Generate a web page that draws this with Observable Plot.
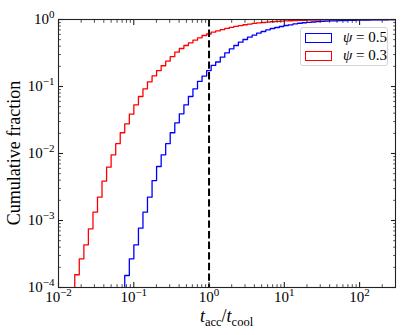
<!DOCTYPE html>
<html>
<head>
<meta charset="utf-8">
<script src="https://cdn.jsdelivr.net/npm/d3@7"></script>
<script src="https://cdn.jsdelivr.net/npm/@observablehq/plot@0.6"></script>
<style>
  body { margin: 0; background: #fff; }
  #wrap { position: relative; width: 416px; height: 335px; }
  .legend { position: absolute; left: 300px; top: 27px; width: 88px; height: 39px; box-sizing: border-box;
    border: 1px solid #d4d4d4; border-radius: 3px; background: rgba(255,255,255,0.8);
    font-family: "Liberation Serif", serif; font-size: 15px; color: #000; }
  .sw { position: absolute; left: 4px; width: 27px; height: 10px; box-sizing: border-box; border: 1.4px solid; }
  .lab { position: absolute; left: 42px; line-height: 15px; white-space: nowrap; }
</style>
</head>
<body>
<div id="wrap"></div>
<script>
// ---- data ----
const xDomain = [0.01, 300];
const yDomain = [1e-4, 1];
const xMajorTicks = [0.01, 0.1, 1, 10, 100];
const xMinorTicks = [0.02,0.03,0.04,0.05,0.06,0.07,0.08,0.09, 0.2,0.3,0.4,0.5,0.6,0.7,0.8,0.9,
                     2,3,4,5,6,7,8,9, 20,30,40,50,60,70,80,90, 200];
const yMajorTicks = [1e-4, 1e-3, 1e-2, 1e-1, 1];
const yMinorTicks = [2e-4,3e-4,4e-4,5e-4,6e-4,7e-4,8e-4,9e-4, 2e-3,3e-3,4e-3,5e-3,6e-3,7e-3,8e-3,9e-3,
                     0.02,0.03,0.04,0.05,0.06,0.07,0.08,0.09, 0.2,0.3,0.4,0.5,0.6,0.7,0.8,0.9];
const thresholdX = [1];

// histogram bin edges (log10 of t_acc/t_cool)
const binEdgeLog10 = [-1.844,
  -1.784,-1.724,-1.663,-1.603,-1.542,-1.482,-1.422,-1.361,-1.301,-1.240,-1.180,-1.120,-1.059,-0.999,-0.938,
  -0.878,-0.818,-0.757,-0.697,-0.636,-0.576,-0.516,-0.455,-0.395,-0.334,-0.274,-0.214,-0.153,-0.093,-0.032,
  0.028,0.088,0.149,0.209,0.270,0.330,0.390,0.451,0.511,0.572,0.632,0.692,0.753,0.813,0.874,0.934,0.994,
  1.055,1.115,1.176,1.236,1.296,1.357,1.417,1.478,1.538,1.598,1.659,1.719,1.780,1.840,1.900,1.961,2.021,
  2.082,2.142,2.202,2.263,2.323,2.384,2.444,2.504,2.565];

const seriesNames = ["ψ = 0.5", "ψ = 0.3"];
const seriesColors = ["#0000ff", "#ff0000"];
const seriesStartBin = [11, 0];

// cumulative fractions per bin, psi = 0.5
const cumPsi05 = [6e-5, 1.51e-4, 2.68e-4, 4.34e-4, 7.67e-4, 1.33e-3, 2.23e-3, 3.95e-3, 6.40e-3, 9.57e-3,
  0.0140, 0.0204, 0.0287, 0.0391, 0.0533, 0.0709, 0.0924, 0.119, 0.143, 0.173, 0.206, 0.232, 0.274, 0.318,
  0.365, 0.409, 0.458, 0.503, 0.544, 0.583, 0.625, 0.662, 0.702, 0.734, 0.760, 0.786, 0.814, 0.833, 0.863,
  0.879, 0.894, 0.906, 0.918, 0.928, 0.936, 0.944, 0.951, 0.957, 0.962, 0.966, 0.970, 0.974, 0.977, 0.980,
  0.982, 0.985, 0.987, 0.989, 0.991, 0.993, 0.995, 0.997];
// cumulative fractions per bin, psi = 0.3
const cumPsi03 = [6e-5, 1.55e-4, 2.68e-4, 4.34e-4, 7.52e-4, 1.33e-3, 2.23e-3, 3.86e-3, 6.25e-3, 9.57e-3,
  0.0140, 0.0204, 0.0277, 0.0386, 0.0533, 0.0709, 0.0924, 0.1175, 0.1445, 0.173, 0.204, 0.240, 0.279, 0.325,
  0.369, 0.409, 0.449, 0.491, 0.533, 0.577, 0.608, 0.646, 0.678, 0.708, 0.737, 0.763, 0.790, 0.812, 0.835,
  0.855, 0.873, 0.888, 0.902, 0.914, 0.925, 0.935, 0.944, 0.951, 0.958, 0.964, 0.969, 0.973, 0.977, 0.980,
  0.983, 0.985, 0.987, 0.989, 0.991, 0.993, 0.994, 0.995, 0.996, 0.997, 0.998, 0.998, 0.999, 0.999, 1.0];

// ---- build step points ----
function stepPoints(values, start) {
  const pts = values.map((v, i) => ({x: Math.pow(10, binEdgeLog10[start + i]), y: v}));
  pts.push({x: Math.pow(10, binEdgeLog10[binEdgeLog10.length - 1]), y: values[values.length - 1]});
  return pts;
}
const series = [stepPoints(cumPsi05, seriesStartBin[0]), stepPoints(cumPsi03, seriesStartBin[1])];

const FONT = "Liberation Serif";
const supFmt = d => String(Math.round(Math.log10(d))).replace("-", "\u2212");
const blank = () => "";

const plot = Plot.plot({
  width: 416, height: 335,
  marginLeft: 58, marginRight: 21, marginTop: 19, marginBottom: 48,
  style: {fontFamily: FONT, fontSize: "15px", background: "white", color: "#000"},
  x: {type: "log", domain: xDomain, axis: null},
  y: {type: "log", domain: yDomain, axis: null},
  marks: [
    Plot.line(series[1], {x: "x", y: "y", curve: "step-after", stroke: seriesColors[1], strokeWidth: 1.3, clip: true}),
    Plot.line(series[0], {x: "x", y: "y", curve: "step-after", stroke: seriesColors[0], strokeWidth: 1.3, clip: true}),
    Plot.ruleX(thresholdX, {stroke: "#000", strokeWidth: 2, strokeDasharray: "7.4,3.2"}),
    // inward major ticks
    Plot.axisX(xMajorTicks, {anchor: "bottom", tickSize: 5, dy: -5, tickFormat: blank, label: null, stroke: "#222", strokeWidth: 1.1}),
    Plot.axisX(xMajorTicks, {anchor: "top", tickSize: 5, dy: 5, tickFormat: blank, label: null, stroke: "#222", strokeWidth: 1.1}),
    Plot.axisY(yMajorTicks, {anchor: "left", tickSize: 5, dx: 5, tickFormat: blank, label: null, stroke: "#222", strokeWidth: 1.1}),
    Plot.axisY(yMajorTicks, {anchor: "right", tickSize: 5, dx: -5, tickFormat: blank, label: null, stroke: "#222", strokeWidth: 1.1}),
    // inward minor ticks
    Plot.axisX(xMinorTicks, {anchor: "bottom", tickSize: 2.8, dy: -2.8, tickFormat: blank, label: null, stroke: "#222", strokeWidth: 0.8}),
    Plot.axisX(xMinorTicks, {anchor: "top", tickSize: 2.8, dy: 2.8, tickFormat: blank, label: null, stroke: "#222", strokeWidth: 0.8}),
    Plot.axisY(yMinorTicks, {anchor: "left", tickSize: 2.8, dx: 2.8, tickFormat: blank, label: null, stroke: "#222", strokeWidth: 0.8}),
    Plot.axisY(yMinorTicks, {anchor: "right", tickSize: 2.8, dx: -2.8, tickFormat: blank, label: null, stroke: "#222", strokeWidth: 0.8}),
    // tick labels
    Plot.axisX(xMajorTicks, {anchor: "bottom", tickSize: 0, tickPadding: 4, tickFormat: supFmt, label: null, fontSize: 15, fontFamily: FONT, fill: "#000"}),
    Plot.axisY(yMajorTicks, {anchor: "left", tickSize: 0, tickPadding: 4, tickFormat: supFmt, label: null, fontSize: 15, fontFamily: FONT, fill: "#000"}),
    Plot.frame({stroke: "#222", strokeWidth: 1.1})
  ]
});

document.getElementById("wrap").appendChild(plot);

// superscript tick labels: 10^n
const svg = d3.select(plot);
svg.selectAll('g[aria-label="x-axis tick label"] text, g[aria-label="y-axis tick label"] text').each(function() {
  const t = d3.select(this);
  const e = t.text();
  if (!e) return;
  t.text(null);
  t.append("tspan").text("10");
  t.append("tspan").attr("dy", "-6").attr("font-size", "11").text(e);
});

// axis titles
const yl = svg.append("text")
  .attr("transform", "translate(14,153) rotate(-90)")
  .attr("text-anchor", "middle").attr("dy", "0.35em")
  .attr("font-family", FONT).attr("font-size", 18).attr("fill", "#000")
  .text("Cumulative fraction");

const xl = svg.append("text")
  .attr("x", 226.5).attr("y", 322).attr("text-anchor", "middle")
  .attr("font-family", FONT).attr("font-size", 18).attr("fill", "#000");
xl.append("tspan").attr("font-style", "italic").text("t");
xl.append("tspan").attr("font-size", 12.5).attr("dy", 3.5).text("acc");
xl.append("tspan").attr("dy", -3.5).text("/");
xl.append("tspan").attr("font-style", "italic").text("t");
xl.append("tspan").attr("font-size", 12.5).attr("dy", 3.5).text("cool");

// legend
const legend = d3.select("#wrap").append("div").attr("class", "legend");
seriesNames.forEach((name, i) => {
  legend.append("div").attr("class", "sw")
    .style("top", (4.5 + i * 18) + "px").style("border-color", seriesColors[i]);
  const parts = name.split(" = ");
  const lab = legend.append("div").attr("class", "lab").style("top", (2 + i * 18) + "px");
  lab.append("i").text(parts[0]);
  lab.append("span").text(" = " + parts[1]);
});
</script>
</body>
</html>
